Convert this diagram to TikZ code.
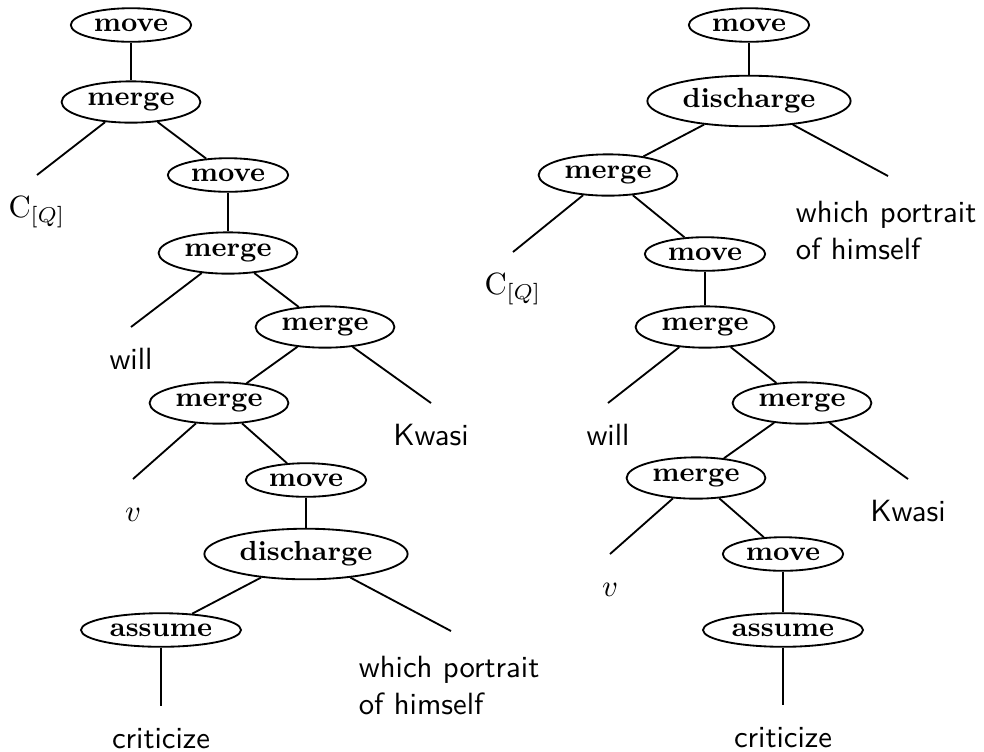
\documentclass[tikz,border=0pt]{standalone}
\usepackage{amsmath}
\usetikzlibrary{shapes.geometric}

\begin{document}
\begin{tikzpicture}[x=0.3257pt,y=-0.3257pt,semithick,
        op/.style={ellipse,draw,inner sep=1.8pt,font=\small\bfseries},
        leaf/.style={anchor=north,inner xsep=1pt,inner ysep=4.4pt,
          text height=9pt,text depth=3pt,font=\sffamily},
        leaflong/.style={anchor=north,inner xsep=0pt,inner ysep=8pt,
          text width=60pt,align=left,font=\sffamily}]

  \useasboundingbox (0,0) rectangle (984,751);

  % left tree
  \node[op] (mv1) at (131,25)  {move};
  \node[op] (mg1) at (131,102) {merge};
  \node[leaf] (cq1) at (37,175) {$\mathrm{C}_{[Q]}$};
  \node[op] (mv2) at (228,175) {move};
  \node[op] (mg2) at (228,253) {merge};
  \node[leaf] (will1) at (131,327) {will};
  \node[op] (mg3) at (325,327) {merge};
  \node[op] (mg4) at (219,403) {merge};
  \node[leaf] (kw1) at (431,403) {Kwasi};
  \node[leaf] (v1) at (133,479) {$v$};
  \node[op] (mv3) at (306,480) {move};
  \node[op] (dc1) at (306,554) {discharge};
  \node[op] (as1) at (161,630) {assume};
  \node[leaflong] (wp1) at (451,631) {which portrait of himself};
  \node[leaf] (cr1) at (161,706) {criticize};

  \path (mv1) edge (mg1)
        (mg1) edge (cq1.north)
        (mg1) edge (mv2)
        (mv2) edge (mg2)
        (mg2) edge (will1.north)
        (mg2) edge (mg3)
        (mg3) edge (mg4)
        (mg3) edge (kw1.north)
        (mg4) edge (v1.north)
        (mg4) edge (mv3)
        (mv3) edge (dc1)
        (dc1) edge (as1)
        (dc1) edge (wp1.north)
        (as1) edge (cr1.north);

  % right tree
  \node[op] (mv4) at (749,25)  {move};
  \node[op] (dc2) at (749,101) {discharge};
  \node[op] (mg5) at (608,175) {merge};
  \node[leaflong] (wp2) at (888,176) {which portrait of himself};
  \node[leaf] (cq2) at (513,252) {$\mathrm{C}_{[Q]}$};
  \node[op] (mv5) at (705,254) {move};
  \node[op] (mg6) at (705,327) {merge};
  \node[leaf] (will2) at (608,403) {will};
  \node[op] (mg7) at (802,403) {merge};
  \node[op] (mg8) at (696,478) {merge};
  \node[leaf] (kw2) at (908,479) {Kwasi};
  \node[leaf] (v2) at (610,554) {$v$};
  \node[op] (mv6) at (783,554) {move};
  \node[op] (as2) at (783,630) {assume};
  \node[leaf] (cr2) at (783,705) {criticize};

  \path (mv4) edge (dc2)
        (dc2) edge (mg5)
        (dc2) edge (wp2.north)
        (mg5) edge (cq2.north)
        (mg5) edge (mv5)
        (mv5) edge (mg6)
        (mg6) edge (will2.north)
        (mg6) edge (mg7)
        (mg7) edge (mg8)
        (mg7) edge (kw2.north)
        (mg8) edge (v2.north)
        (mg8) edge (mv6)
        (mv6) edge (as2)
        (as2) edge (cr2.north);

\end{tikzpicture}
\end{document}
